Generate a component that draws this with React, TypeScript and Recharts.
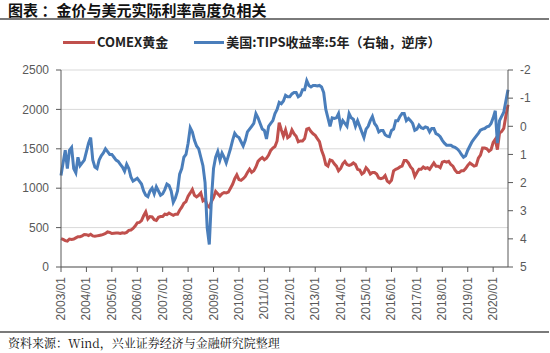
import { LineChart, Line, XAxis, YAxis, CartesianGrid } from "recharts";

// monthly points, 2003/01 .. 2020/08
const gold2003 = [360, 350, 335, 328, 355, 350, 355, 370, 385, 385, 395, 412];
const gold2004 = [410, 400, 415, 395, 390, 395, 400, 405, 415, 425, 445, 440];
const gold2005 = [425, 428, 430, 430, 425, 435, 430, 440, 465, 470, 490, 520];
const gold2006 = [560, 565, 590, 650, 700, 610, 640, 635, 600, 590, 630, 640];
const gold2007 = [640, 670, 665, 685, 670, 655, 670, 670, 720, 760, 810, 830];
const gold2008 = [900, 940, 985, 910, 890, 910, 940, 840, 860, 780, 760, 830];
const gold2009 = [880, 960, 930, 900, 930, 945, 940, 950, 1000, 1050, 1120, 1170];
const gold2010 = [1110, 1100, 1120, 1150, 1200, 1240, 1200, 1220, 1270, 1340, 1370, 1390];
const gold2011 = [1360, 1380, 1420, 1480, 1510, 1530, 1600, 1830, 1740, 1660, 1740, 1640];
const gold2012 = [1660, 1740, 1690, 1660, 1590, 1600, 1600, 1630, 1750, 1760, 1720, 1690];
const gold2013 = [1670, 1630, 1590, 1480, 1410, 1300, 1280, 1360, 1350, 1310, 1280, 1220];
const gold2014 = [1250, 1310, 1340, 1300, 1290, 1300, 1320, 1300, 1240, 1230, 1180, 1200];
const gold2015 = [1260, 1230, 1180, 1200, 1200, 1180, 1130, 1120, 1130, 1160, 1090, 1070];
const gold2016 = [1100, 1220, 1240, 1250, 1270, 1280, 1350, 1350, 1320, 1270, 1240, 1150];
const gold2017 = [1200, 1240, 1240, 1270, 1250, 1260, 1240, 1280, 1320, 1280, 1280, 1260];
const gold2018 = [1330, 1340, 1330, 1340, 1300, 1280, 1230, 1200, 1200, 1220, 1220, 1250];
const gold2019 = [1290, 1320, 1300, 1280, 1290, 1380, 1420, 1510, 1510, 1500, 1470, 1490];
const gold2020 = [1580, 1620, 1490, 1700, 1720, 1760, 1920, 2060];

const tips2003 = [1.75, 1.3, 0.85, 1.5, 0.85, 0.75, 1.5, 1.65, 1.1, 1.4, 1.3, 1.2];
const tips2004 = [0.9, 0.6, 0.4, 1.2, 1.45, 1.5, 1.2, 1.05, 0.95, 0.8, 0.9, 1.0];
const tips2005 = [1.0, 1.1, 1.2, 1.25, 1.35, 1.45, 1.6, 1.35, 1.5, 1.8, 1.95, 1.9];
const tips2006 = [1.85, 1.95, 2.05, 2.3, 2.45, 2.5, 2.3, 2.2, 2.4, 2.15, 2.3, 2.45];
const tips2007 = [2.4, 2.25, 2.05, 2.1, 2.3, 2.7, 2.55, 2.3, 1.7, 1.5, 1.1, 1.0];
const tips2008 = [0.6, 0.05, 0.2, 0.5, 0.7, 0.8, 1.1, 1.4, 2.0, 3.6, 4.2, 2.6];
const tips2009 = [1.5, 1.1, 0.9, 1.2, 0.95, 1.1, 1.3, 1.05, 0.8, 0.5, 0.25, 0.35];
const tips2010 = [0.4, 0.55, 0.7, 0.5, 0.2, 0.1, 0.0, -0.1, -0.45, -0.3, -0.1, 0.1];
const tips2011 = [0.15, 0.45, 0.0, -0.1, -0.2, -0.45, -0.6, -0.85, -0.8, -0.9, -1.1, -1.05];
const tips2012 = [-1.05, -1.15, -1.2, -1.2, -1.05, -1.1, -1.3, -1.3, -1.62, -1.45, -1.4, -1.45];
const tips2013 = [-1.45, -1.43, -1.45, -1.4, -1.2, -0.6, -0.3, 0.0, -0.3, -0.28, -0.3, -0.45];
const tips2014 = [0.0, -0.2, -0.1, 0.0, -0.45, -0.3, -0.25, 0.0, -0.2, 0.0, 0.2, 0.4];
const tips2015 = [0.1, 0.0, -0.2, -0.35, -0.1, 0.0, 0.2, 0.15, 0.15, 0.3, 0.35, 0.37];
const tips2016 = [0.15, 0.1, -0.2, -0.2, -0.35, -0.45, -0.45, -0.2, -0.28, -0.2, -0.1, 0.14];
const tips2017 = [0.1, -0.04, 0.05, 0.08, 0.02, 0.05, 0.2, 0.08, 0.08, 0.26, 0.3, 0.37];
const tips2018 = [0.5, 0.6, 0.67, 0.67, 0.67, 0.72, 0.75, 0.8, 0.88, 1.0, 1.1, 1.05];
const tips2019 = [0.85, 0.7, 0.55, 0.45, 0.35, 0.25, 0.14, 0.1, 0.08, 0.02, 0.0, -0.1];
const tips2020 = [-0.3, -0.55, 0.6, -0.2, -0.35, -0.5, -0.9, -1.3];

const gold = [
  gold2003, gold2004, gold2005, gold2006, gold2007, gold2008, gold2009, gold2010, gold2011,
  gold2012, gold2013, gold2014, gold2015, gold2016, gold2017, gold2018, gold2019, gold2020,
].flat();
const tips = [
  tips2003, tips2004, tips2005, tips2006, tips2007, tips2008, tips2009, tips2010, tips2011,
  tips2012, tips2013, tips2014, tips2015, tips2016, tips2017, tips2018, tips2019, tips2020,
].flat();

const months = gold.map((_, i) => {
  const y = 2003 + Math.floor(i / 12);
  const m = (i % 12) + 1;
  return `${y}/${m < 10 ? "0" + m : m}`;
});

const leftTicks = [0, 500, 1000, 1500, 2000, 2500];
const rightTicks = [-2, -1, 0, 1, 2, 3, 4, 5];

const data = months.map((month, i) => ({ month, gold: gold[i], tips: tips[i] }));

const RED = "#c0504d";
const BLUE = "#4a7ebb";
const AXIS = "#595959";
const LABEL = "#595959";
const FONT = "'Liberation Sans', Arial, sans-serif";
const CJK = "'Noto Sans CJK SC', sans-serif";

const XTick = (props: any) => {
  const { x, y, payload } = props;
  return (
    <text
      x={x}
      y={y}
      transform={`rotate(-90 ${x} ${y})`}
      textAnchor="end"
      dominantBaseline="central"
      fontSize={12}
      fontFamily={FONT}
      fill={LABEL}
    >
      {payload.value}
    </text>
  );
};

export default function App() {
  return (
    <div
      style={{
        position: "absolute",
        left: 0,
        top: 0,
        width: 550,
        height: 353,
        background: "#fff",
        overflow: "hidden",
      }}
    >
      <div
        style={{
          position: "absolute",
          left: 8,
          top: 1,
          fontFamily: CJK,
          fontWeight: 700,
          fontSize: 15,
          lineHeight: "17px",
          color: "#111",
          whiteSpace: "pre",
        }}
      >
        {"图表 ：金价与美元实际利率高度负相关"}
      </div>
      <div style={{ position: "absolute", left: 0, top: 18, width: 549, height: 2, background: "#7a7a7a" }} />

      <div
        style={{
          position: "absolute",
          left: 63,
          top: 33,
          display: "flex",
          alignItems: "center",
          fontFamily: CJK,
          fontSize: 13,
          fontWeight: 700,
          color: "#222",
          whiteSpace: "nowrap",
          lineHeight: "18px",
        }}
      >
        <span style={{ display: "inline-block", width: 32, height: 3, background: RED, marginRight: 2 }} />
        <span style={{ fontFamily: "'Liberation Sans Narrow', " + CJK }}>COMEX黄金</span>
        <span style={{ display: "inline-block", width: 30, height: 3, background: BLUE, marginLeft: 26, marginRight: 2 }} />
        <span>美国:TIPS收益率:5年（右轴，逆序）</span>
      </div>

      <div style={{ position: "absolute", left: 0, top: 0 }}>
        <LineChart
          width={550}
          height={353}
          data={data}
          margin={{ top: 70, right: 12, bottom: 26, left: 16 }}
        >
          <CartesianGrid yAxisId="left" vertical={false} stroke="#d9d9d9" strokeWidth={1} />
          <XAxis
            dataKey="month"
            interval={11}
            tick={<XTick />}
            tickSize={5}
            tickMargin={5}
            height={60}
            stroke={AXIS}
            tickLine={{ stroke: AXIS }}
          />
          <YAxis
            yAxisId="left"
            domain={[0, 2500]}
            ticks={leftTicks}
            width={45}
            tickSize={5}
            tickMargin={7}
            stroke={AXIS}
            tick={{ fill: LABEL, fontSize: 12, fontFamily: FONT }}
          />
          <YAxis
            yAxisId="right"
            orientation="right"
            reversed
            domain={[-2, 5]}
            ticks={rightTicks}
            width={30}
            tickSize={5}
            tickMargin={7}
            stroke={AXIS}
            tick={{ fill: LABEL, fontSize: 12, fontFamily: FONT }}
          />
          <Line
            yAxisId="left"
            dataKey="gold"
            stroke={RED}
            strokeWidth={3}
            dot={false}
            type="linear"
            isAnimationActive={false}
          />
          <Line
            yAxisId="right"
            dataKey="tips"
            stroke={BLUE}
            strokeWidth={3}
            dot={false}
            type="linear"
            isAnimationActive={false}
          />
        </LineChart>
      </div>

      <div style={{ position: "absolute", left: 0, top: 331, width: 549, height: 2, background: "#7a7a7a" }} />
      <div
        style={{
          position: "absolute",
          left: 8,
          top: 335,
          fontFamily: "'Noto Serif CJK SC', " + CJK,
          fontSize: 12,
          lineHeight: "16px",
          color: "#111",
          whiteSpace: "nowrap",
        }}
      >
        资料来源：Wind，兴业证券经济与金融研究院整理
      </div>
    </div>
  );
}
